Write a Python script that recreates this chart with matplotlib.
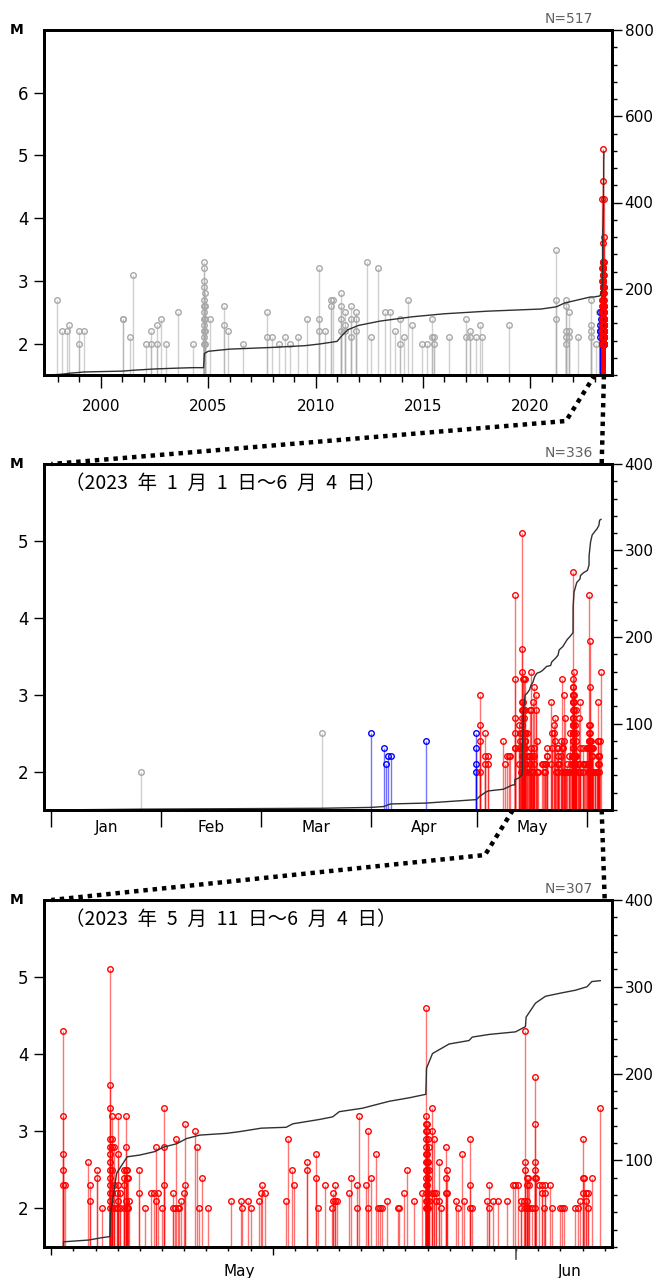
import numpy as np
import matplotlib.pyplot as plt
from matplotlib.ticker import MultipleLocator
from matplotlib.transforms import blended_transform_factory

plt.rcParams['font.family'] = ['DejaVu Sans']
JP = ['Noto Sans CJK JP', 'DejaVu Sans']

# events 2023-05-11 .. 06-04 : (days since May 11 00:00, magnitudes)
may_events = [
    (0.52, (4.3, 3.2, 2.7, 2.5, 2.3)), (0.63, (2.3,)), (1.68, (2.6,)),
    (1.77, (2.3, 2.1)), (2.05, (2.5, 2.4)), (2.29, (2.0,)),
    (2.67, (5.1, 3.6, 3.3, 2.9, 2.8, 2.7, 2.6, 2.5, 2.4, 2.3, 2.2, 2.1, 2.0)),
    (2.74, (3.2, 2.9, 2.8, 2.5, 2.2, 2.0)), (2.83, (2.8, 2.3, 2.0)),
    (2.95, (2.2, 2.0)), (3.03, (3.2, 2.7, 2.3, 2.1)), (3.12, (2.2, 2.0)),
    (3.30, (2.5, 2.4, 2.3, 2.0)), (3.37, (3.2, 2.8, 2.5, 2.1)),
    (3.43, (2.5, 2.4, 2.0)), (3.48, (2.4, 2.0)), (3.52, (2.1,)),
    (3.96, (2.5, 2.2)), (4.24, (2.0,)), (4.50, (2.2,)), (4.65, (2.2,)),
    (4.73, (2.8, 2.1)), (4.80, (2.2,)), (4.98, (2.0,)), (5.07, (3.3, 2.8, 2.3)),
    (5.48, (2.2, 2.0)), (5.58, (2.0,)), (5.64, (2.9,)), (5.72, (2.0,)),
    (5.78, (2.0,)), (5.87, (2.1,)), (5.99, (2.2,)), (6.03, (3.1, 2.3)),
    (6.48, (3.0,)), (6.59, (2.8,)), (6.66, (2.0,)), (6.81, (2.4,)),
    (7.08, (2.0,)), (8.13, (2.1,)), (8.55, (2.1,)), (8.63, (2.0,)),
    (8.90, (2.1,)), (9.03, (2.0,)), (9.38, (2.1,)), (9.47, (2.2,)),
    (9.51, (2.3,)), (9.65, (2.2,)), (10.61, (2.1,)), (10.70, (2.9,)),
    (10.87, (2.5,)), (10.97, (2.3,)), (11.54, (2.6, 2.5)), (11.96, (2.7, 2.4)),
    (12.04, (2.0,)), (12.38, (2.3,)), (12.68, (2.0,)), (12.74, (2.2, 2.1)),
    (12.80, (2.3, 2.1)), (12.91, (2.1,)), (13.43, (2.2,)), (13.52, (2.4,)),
    (13.82, (2.3, 2.0)), (13.91, (3.2,)), (14.21, (2.3,)), (14.29, (3.0, 2.0)),
    (14.45, (2.4,)), (14.67, (2.7,)), (14.77, (2.0,)), (14.85, (2.0,)),
    (14.94, (2.0,)), (15.18, (2.1,)), (15.67, (2.0,)), (15.73, (2.0,)),
    (15.93, (2.2,)), (16.05, (2.5,)), (16.39, (2.1,)), (16.74, (2.2,)),
    (16.93, (4.6, 3.2, 3.1, 3.0, 2.9, 2.8, 2.7, 2.6, 2.5, 2.4, 2.3, 2.2, 2.1, 2.0)),
    (16.98, (3.1, 3.0, 2.7, 2.6, 2.5, 2.3, 2.1, 2.0)),
    (17.02, (2.9, 2.6, 2.4, 2.2, 2.0)), (17.07, (2.8, 2.5, 2.1)),
    (17.22, (3.3, 3.0, 2.2)), (17.31, (2.9, 2.2)), (17.37, (2.2, 2.1)),
    (17.53, (2.6, 2.1)), (17.62, (2.0,)), (17.82, (2.8, 2.4, 2.2)),
    (17.89, (2.5, 2.2)), (18.30, (2.1,)), (18.39, (2.0,)), (18.57, (2.7,)),
    (18.66, (2.1,)), (18.90, (2.9, 2.3, 2.0)), (18.99, (2.0,)),
    (19.67, (2.1,)), (19.77, (2.3, 2.0)), (19.95, (2.1,)), (20.19, (2.1,)),
    (20.60, (2.1,)), (20.88, (2.3,)), (20.97, (2.3,)), (21.08, (2.3,)),
    (21.24, (2.1, 2.0)), (21.35, (2.1,)), (21.42, (4.3, 2.6, 2.5, 2.0)),
    (21.50, (2.4, 2.3, 2.1, 2.0)), (21.54, (2.4,)), (21.60, (2.3, 2.0)),
    (21.72, (2.0,)), (21.83, (3.7, 3.1, 2.6, 2.5, 2.4, 2.0)), (21.90, (2.4,)),
    (22.05, (2.3,)), (22.17, (2.3, 2.2)), (22.25, (2.0,)), (22.32, (2.3, 2.2)),
    (22.52, (2.3,)), (22.64, (2.0,)), (22.98, (2.0,)), (23.07, (2.0,)),
    (23.18, (2.0,)), (23.67, (2.0,)), (23.79, (2.0,)), (23.90, (2.1,)),
    (24.02, (2.9, 2.4, 2.2)), (24.08, (2.4,)), (24.17, (2.2, 2.1)),
    (24.24, (2.2, 2.0)), (24.41, (2.4,)), (24.80, (3.3,)),
]

# events 2023-01-01 .. 05-10 : (day of year, magnitudes)
early_events = [
    (25.4, (2.0,)), (76.1, (2.5,)), (90.1, (2.5,)), (93.6, (2.3,)),
    (94.3, (2.1,)), (94.8, (2.2,)), (95.6, (2.2,)), (105.5, (2.4,)),
    (119.7, (2.5, 2.3, 2.1, 2.0)), (120.7, (3.0, 2.6, 2.4, 2.0)),
    (122.1, (2.5, 2.2, 2.1)), (123.0, (2.2, 2.1)), (127.3, (2.4,)),
    (127.8, (2.1,)), (128.4, (2.2,)), (128.9, (2.2,)), (129.3, (2.2,)),
]

# events 1997 .. 2022 : (decimal year, magnitudes)
old_events = [
    (1997.95, (2.7,)), (1998.18, (2.2,)), (1998.40, (2.2,)), (1998.50, (2.3,)),
    (1999.00, (2.2, 2.0)), (1999.20, (2.2,)), (2001.05, (2.4, 2.4)),
    (2001.35, (2.1,)), (2001.50, (3.1,)), (2002.10, (2.0,)),
    (2002.35, (2.2, 2.0)), (2002.60, (2.3, 2.0)), (2002.80, (2.4,)),
    (2003.05, (2.0,)), (2003.60, (2.5,)), (2004.30, (2.0,)),
    (2004.78, (3.3, 3.2, 3.0, 2.9, 2.7, 2.6, 2.5, 2.4, 2.3, 2.2, 2.1, 2.0)),
    (2004.85, (2.8, 2.6, 2.4, 2.2, 2.0)), (2005.10, (2.4,)),
    (2005.75, (2.6, 2.3)), (2005.90, (2.2,)), (2006.60, (2.0,)),
    (2007.75, (2.5, 2.1)), (2007.95, (2.1,)), (2008.30, (2.0,)),
    (2008.55, (2.1,)), (2008.80, (2.0,)), (2009.20, (2.1,)), (2009.60, (2.4,)),
    (2010.15, (3.2, 2.4, 2.2)), (2010.45, (2.2,)), (2010.70, (2.7, 2.6)),
    (2010.80, (2.7,)), (2011.20, (2.8, 2.6, 2.4, 2.2)),
    (2011.35, (2.5, 2.3, 2.2)), (2011.65, (2.6, 2.4, 2.1)),
    (2011.90, (2.5, 2.4, 2.2)), (2012.40, (3.3,)), (2012.60, (2.1,)),
    (2012.90, (3.2,)), (2013.25, (2.5,)), (2013.45, (2.5,)), (2013.70, (2.2,)),
    (2013.95, (2.4, 2.0)), (2014.10, (2.1,)), (2014.30, (2.7,)),
    (2014.50, (2.3,)), (2014.95, (2.0,)), (2015.20, (2.0,)),
    (2015.40, (2.4, 2.1)), (2015.50, (2.1, 2.0)), (2016.20, (2.1,)),
    (2017.00, (2.4, 2.1)), (2017.20, (2.2, 2.1)), (2017.45, (2.1,)),
    (2017.65, (2.3,)), (2017.75, (2.1,)), (2019.00, (2.3,)),
    (2021.20, (3.5, 2.7, 2.4)), (2021.65, (2.7, 2.6, 2.2, 2.1, 2.0)),
    (2021.80, (2.5, 2.2, 2.1)), (2022.20, (2.1,)), (2022.80, (2.7, 2.3, 2.2, 2.1)),
]

# cumulative counts
may_cum_t = [-0.33, 0.55, 0.55, 1.68, 2.35, 2.65, 2.68, 2.95, 3.43, 4.0, 4.68,
             5.05, 5.66, 6.11, 6.71, 7.91, 8.51, 9.49, 10.61, 10.91, 12.11,
             12.71, 13.01, 14.06, 14.51, 15.27, 16.17, 16.92, 16.95, 17.22,
             17.97, 18.87, 19.02, 19.77, 20.97, 21.42, 21.45, 21.87, 22.32,
             23.07, 23.68, 24.20, 24.42, 24.80]
may_cum_n = [0, 0, 6, 8, 11, 12, 39, 85, 104, 106, 110, 115, 119, 125, 129,
             131, 133, 137, 138, 142, 147, 150, 156, 160, 163, 168, 172, 176,
             206, 223, 234, 238, 242, 245, 248, 254, 265, 281, 289, 293, 296,
             300, 306, 307]
early_cum_t = [0, 25.4, 76.1, 90.1, 93.6, 94.3, 94.8, 95.6, 105.5, 119.7,
               120.7, 122.1, 123.0, 127.3, 127.8, 128.4, 128.9, 129.3, 130.0]
early_cum_n = [0, 1, 2, 3, 4, 5, 6, 7, 8, 12, 16, 20, 22, 24, 25, 26, 27, 28, 29]
old_cum_t = [1997.35, 1997.95, 1998.2, 1998.4, 1998.5, 1999.0, 1999.2, 2001.0,
             2001.5, 2002.5, 2003.6, 2004.3, 2004.78, 2004.82, 2005.0, 2006.0,
             2008.0, 2009.5, 2010.2, 2011.0, 2011.2, 2011.5, 2012.0, 2013.0,
             2014.5, 2016.0, 2018.0, 2020.5, 2021.2, 2021.6, 2022.8, 2023.0]
old_cum_n = [0, 1, 2, 3, 4, 6, 7, 9, 11, 14, 16, 17, 17, 50, 55, 60, 64, 68,
             72, 78, 90, 105, 115, 125, 135, 142, 148, 153, 158, 167, 181, 181]

RED, BLUE, GRAY = '#ff0000', '#0000ff', '#a8a8a8'
MAY11, APR1, MAY1 = 130, 90, 120


def flatten(events, shift=0.0, scale=1.0):
    t, m = [], []
    for ti, mags in events:
        for mi in mags:
            t.append(shift + ti * scale)
            m.append(mi)
    return np.array(t), np.array(m)


def stems(ax, t, m, color, base):
    if len(t) == 0:
        return
    ax.vlines(t, base, m, colors=color, lw=1.0, alpha=0.55, zorder=2)
    ax.plot(t, m, 'o', ms=4, mfc='none', mec=color, mew=1.0, ls='none', zorder=3)


def frame(ax):
    for s in ax.spines.values():
        s.set_linewidth(2.0)


fig = plt.figure(figsize=(6.72, 12.78), dpi=100)
W, H = 672.0, 1278.0
ax1 = fig.add_axes([44 / W, 1 - 375 / H, 568 / W, 345 / H])
ax2 = fig.add_axes([44 / W, 1 - 810 / H, 568 / W, 346 / H])
ax3 = fig.add_axes([44 / W, 1 - 1247 / H, 568 / W, 347 / H])

t_may, m_may = flatten(may_events)
t_early, m_early = flatten(early_events)

# ---- panel 3 : May 11 - Jun 4
ax3.set_xlim(-0.33, 25.33)
ax3.set_ylim(1.5, 6.0)
stems(ax3, t_may, m_may, RED, 1.5)

# ---- panel 2 : Jan 1 - Jun 4
t2 = np.concatenate([t_early, t_may + MAY11])
m2 = np.concatenate([m_early, m_may])
ax2.set_xlim(-2.05, 157.9)
ax2.set_ylim(1.5, 6.0)
gray2 = t2 < APR1
blue2 = (t2 >= APR1) & (t2 < MAY1)
red2 = t2 >= MAY1
stems(ax2, t2[gray2], m2[gray2], GRAY, 1.5)
stems(ax2, t2[blue2], m2[blue2], BLUE, 1.5)
stems(ax2, t2[red2], m2[red2], RED, 1.5)

# ---- panel 1 : 1997 - 2023
t_old, m_old = flatten(old_events)
t1_new = 2023.0 + t2 / 365.0
ax1.set_xlim(1997.35, 2023.8)
ax1.set_ylim(1.5, 7.0)
stems(ax1, t_old, m_old, GRAY, 1.5)
stems(ax1, t1_new[gray2], m2[gray2], GRAY, 1.5)
stems(ax1, t1_new[blue2], m2[blue2], BLUE, 1.5)
stems(ax1, t1_new[red2], m2[red2], RED, 1.5)

# cumulative curves
cum3_t = np.array(may_cum_t)
cum3_n = np.array(may_cum_n)
cum2_t = np.concatenate([early_cum_t, cum3_t[1:] + MAY11])
cum2_n = np.concatenate([early_cum_n, cum3_n[1:] + early_cum_n[-1]])
cum1_t = np.concatenate([old_cum_t, 2023.0 + cum2_t[1:] / 365.0])
cum1_n = np.concatenate([old_cum_n, cum2_n[1:] + old_cum_n[-1]])

for ax, ct, cn, top, step in [(ax1, cum1_t, cum1_n, 800, 200),
                             (ax2, cum2_t, cum2_n, 400, 100),
                             (ax3, cum3_t, cum3_n, 400, 100)]:
    axr = ax.twinx()
    axr.plot(ct, cn, color='#303030', lw=1.0)
    axr.set_ylim(0, top)
    axr.set_yticks(np.arange(step, top + 1, step))
    axr.yaxis.set_minor_locator(MultipleLocator(step / 5))
    axr.tick_params(axis='y', which='major', length=7, width=1, labelsize=11, pad=2)
    axr.tick_params(axis='y', which='minor', length=3.5, width=1)
    frame(axr)
    ax.text(0.967, 1.012, 'N=%d' % cn[-1], transform=ax.transAxes, ha='right',
            va='bottom', fontsize=10, color='#606060')
    ax.text(-0.048, 1.0, 'M', transform=ax.transAxes, ha='center', va='center',
            fontsize=10, fontweight='bold')

for ax, yt in [(ax1, [2, 3, 4, 5, 6]), (ax2, [2, 3, 4, 5]), (ax3, [2, 3, 4, 5])]:
    frame(ax)
    ax.set_yticks(yt)
    ax.tick_params(axis='y', length=7, width=1, labelsize=12, pad=4)

# x axis panel 1
ax1.set_xticks(range(2000, 2021, 5))
ax1.xaxis.set_minor_locator(MultipleLocator(1))
ax1.tick_params(axis='x', which='major', length=9, width=1, labelsize=11, pad=8)
ax1.tick_params(axis='x', which='minor', length=5, width=1)

# x axis panel 2 : month boundaries
month_start = [0, 31, 59, 90, 120, 151]
month_names = ['Jan', 'Feb', 'Mar', 'Apr', 'May']
ax2.set_xticks(month_start)
ax2.set_xticklabels([])
ax2.tick_params(axis='x', which='major', length=12, width=1)
tr2 = blended_transform_factory(ax2.transData, ax2.transAxes)
for a, b, name in zip(month_start[:-1], month_start[1:], month_names):
    ax2.text((a + b) / 2, -0.05, name, transform=tr2, ha='center', va='center', fontsize=11)

# x axis panel 3 : days
ax3.set_xticks([0, 10])
ax3.set_xticklabels([])
ax3.xaxis.set_minor_locator(MultipleLocator(1))
ax3.tick_params(axis='x', which='major', length=5.5, width=1)
ax3.tick_params(axis='x', which='minor', length=3, width=1)
tr3 = blended_transform_factory(ax3.transData, ax3.transAxes)
ax3.plot([21, 21], [0, -0.036], transform=tr3, color='#555555', lw=1.2, clip_on=False)
ax3.text(8.5, -0.072, 'May', transform=tr3, ha='center', va='center', fontsize=11)
ax3.text(23.4, -0.072, 'Jun', transform=tr3, ha='center', va='center', fontsize=11)

# period captions
SP = '\u2002'
cap2 = '（2023' + SP + '年' + SP + '1' + SP + '月' + SP + '1' + SP + '日～6' + SP + '月' + SP + '4' + SP + '日）'
cap3 = '（2023' + SP + '年' + SP + '5' + SP + '月' + SP + '11' + SP + '日～6' + SP + '月' + SP + '4' + SP + '日）'
ax2.text(0.037, 0.945, cap2, transform=ax2.transAxes,
         ha='left', va='center', fontsize=14, family=JP)
ax3.text(0.037, 0.945, cap3, transform=ax3.transAxes,
         ha='left', va='center', fontsize=14, family=JP)

# dotted connectors between panels
inv = fig.transFigure.inverted()


def fpt(ax, x, y):
    return inv.transform(ax.transData.transform((x, y)))


def fpx(px, py):
    return (px / W, 1 - py / H)


def dotted(points):
    xs = [p[0] for p in points]
    ys = [p[1] for p in points]
    fig.add_artist(plt.Line2D(xs, ys, transform=fig.transFigure, color='black',
                              lw=3.2, ls=(0, (1, 1.1)), zorder=10))


dotted([fpt(ax1, 2023.0, 1.5), fpx(566, 421), fpt(ax2, 0, 6.0)])
dotted([fpt(ax1, 2023.0 + 155 / 365.0, 1.5), fpt(ax2, 155, 6.0)])
dotted([fpt(ax2, MAY11, 1.5), fpx(485, 855), fpt(ax3, 0, 6.0)])
dotted([fpt(ax2, 155, 1.5), fpt(ax3, 25, 6.0)])

fig.savefig('out.png', dpi=100)
